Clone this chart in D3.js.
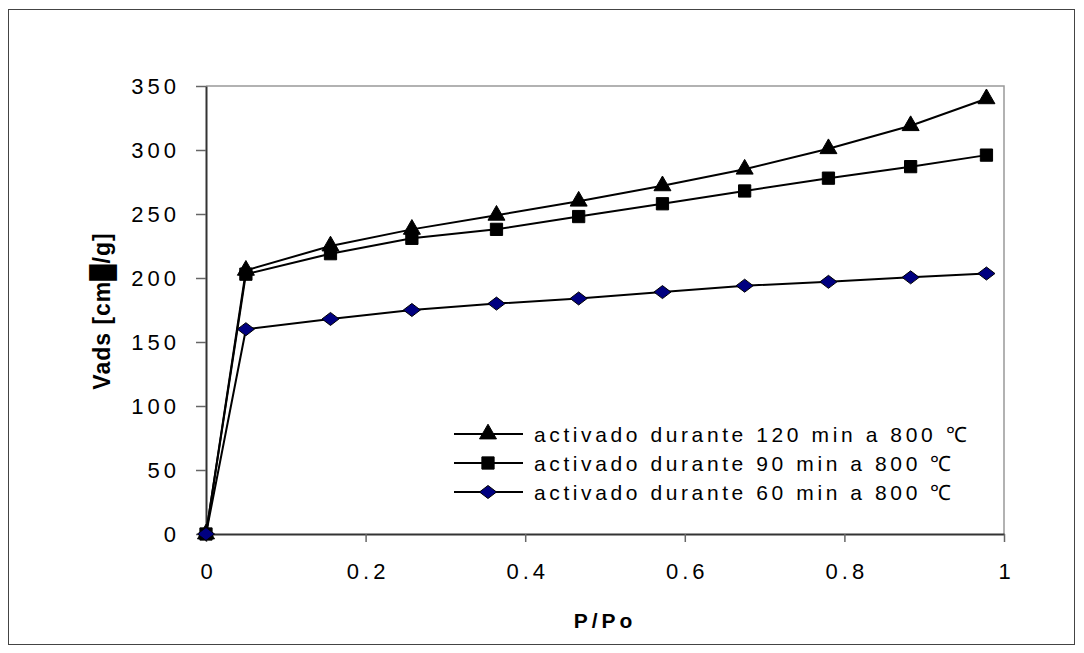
<!DOCTYPE html>
<html>
<head>
<meta charset="utf-8">
<script src="https://cdn.jsdelivr.net/npm/d3@7"></script>
<style>
  body { margin: 0; background: #fff; }
  svg { font-family: "Liberation Sans", Arial, sans-serif; }
</style>
</head>
<body>
<svg id="drawing_region"></svg>
<script>
// P/Po values
const ppo = [0, 0.05, 0.156, 0.258, 0.364, 0.467, 0.572, 0.675, 0.78, 0.883, 0.978];
// Vads for each activation time
const v120 = [0, 206, 225, 238, 249, 260, 272, 285, 301, 319, 340];
const v90  = [0, 203, 219, 231, 238, 248, 258, 268, 278, 287, 296];
const v60  = [0, 160, 168, 175, 180, 184, 189, 194, 197, 200.5, 203.5];
const seriesNames = [
    'activado durante 120 min a 800 \u2103',
    'activado durante 90 min a 800 \u2103',
    'activado durante 60 min a 800 \u2103'
];
const xTicks = [0, 0.2, 0.4, 0.6, 0.8, 1];
const yTicks = [0, 50, 100, 150, 200, 250, 300, 350];

const width = 1084, height = 653;
const margin = {top: 86, right: 80, bottom: 119, left: 206};

const svg = d3.select('#drawing_region')
    .attr('width', width)
    .attr('height', height);

// outer frame
svg.append('rect')
    .attr('x', 8.5).attr('y', 9.5)
    .attr('width', 1066).attr('height', 635)
    .attr('fill', 'none')
    .attr('stroke', '#444');

const xscale = d3.scaleLinear().domain([0, 1]).range([margin.left, width - margin.right]);
const yscale = d3.scaleLinear().domain([0, 350]).range([height - margin.bottom, margin.top]);

// plot frame (top/right light)
svg.append('path')
    .attr('d', `M${xscale(0)},${yscale(350)}H${xscale(1)}V${yscale(0)}`)
    .attr('fill', 'none')
    .attr('stroke', '#999')
    .attr('stroke-width', 1.5);

const xaxis = d3.axisBottom(xscale)
    .tickValues(xTicks)
    .tickFormat(d => d)
    .tickSize(8)
    .tickPadding(21)
    .tickSizeOuter(0);

const yaxis = d3.axisLeft(yscale)
    .tickValues(yTicks)
    .tickSize(10)
    .tickPadding(16)
    .tickSizeOuter(0);

const xg = svg.append('g')
    .attr('transform', `translate(0, ${yscale(0)})`)
    .call(xaxis);
const yg = svg.append('g')
    .attr('transform', `translate(${xscale(0)}, 0)`)
    .call(yaxis);

[xg, yg].forEach(g => {
    g.select('.domain').attr('stroke', '#333').attr('stroke-width', 2);
    g.selectAll('.tick line').attr('stroke', '#666').attr('stroke-width', 1.5);
    g.selectAll('.tick text')
        .attr('fill', '#000')
        .style('font-size', '22px')
        .style('letter-spacing', '4px');
});
// keep x labels centred despite trailing letter spacing
xg.selectAll('.tick text').attr('dx', '2px');

// axis titles
svg.append('text')
    .attr('x', 605).attr('y', 628)
    .attr('text-anchor', 'middle')
    .style('font-size', '21px')
    .style('font-weight', 'bold')
    .style('letter-spacing', '4px')
    .text('P/Po');

svg.append('text')
    .attr('transform', 'translate(110, 311) rotate(-90)')
    .attr('text-anchor', 'middle')
    .style('font-size', '23px')
    .style('font-weight', 'bold')
    .style('letter-spacing', '1px')
    .text('Vads [cm\u2588/g]');

// wide diamond used by Excel-like marker
const wideDiamond = {
    draw(context, size) {
        const w = Math.sqrt(size) * 0.72, h = Math.sqrt(size) * 0.55;
        context.moveTo(0, -h);
        context.lineTo(w, 0);
        context.lineTo(0, h);
        context.lineTo(-w, 0);
        context.closePath();
    }
};

const series = [
    {name: seriesNames[0], values: v120, symbol: d3.symbolTriangle, size: 125, fill: '#000'},
    {name: seriesNames[1], values: v90, symbol: d3.symbolSquare, size: 150, fill: '#000'},
    {name: seriesNames[2], values: v60, symbol: wideDiamond, size: 140, fill: '#000080'}
];

const line = d3.line()
    .x((d, i) => xscale(ppo[i]))
    .y(d => yscale(d));

series.forEach(s => {
    svg.append('path')
        .datum(s.values)
        .attr('d', line)
        .attr('fill', 'none')
        .attr('stroke', '#000')
        .attr('stroke-width', 2);
});

series.forEach(s => {
    const sym = d3.symbol().type(s.symbol).size(s.size);
    svg.selectAll(null)
        .data(s.values)
        .enter()
        .append('path')
        .attr('d', sym)
        .attr('transform', (d, i) => `translate(${xscale(ppo[i])}, ${yscale(d)})`)
        .attr('fill', s.fill)
        .attr('stroke', '#000')
        .attr('stroke-width', 1);
});

// legend
const legend = svg.append('g').attr('transform', 'translate(454, 434)');
series.forEach((s, i) => {
    const row = legend.append('g').attr('transform', `translate(0, ${i * 29})`);
    row.append('line')
        .attr('x1', 0).attr('x2', 69)
        .attr('stroke', '#000').attr('stroke-width', 2);
    row.append('path')
        .attr('d', d3.symbol().type(s.symbol).size(s.size)())
        .attr('transform', 'translate(34, 0)')
        .attr('fill', s.fill)
        .attr('stroke', '#000');
    row.append('text')
        .attr('x', 80).attr('y', 7.5)
        .style('font-size', '21px')
        .style('letter-spacing', '3.6px')
        .text(s.name);
});
</script>
</body>
</html>
